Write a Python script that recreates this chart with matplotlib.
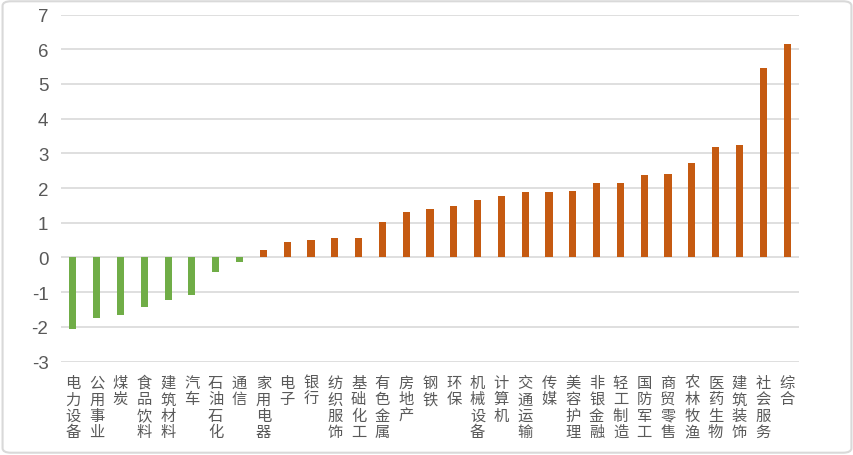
import numpy as np
import matplotlib
matplotlib.use('Agg')
import matplotlib.pyplot as plt
from matplotlib.patches import FancyBboxPatch

# 行业及数值
industries = ['电力设备', '公用事业', '煤炭', '食品饮料', '建筑材料', '汽车', '石油石化', '通信',
              '家用电器', '电子', '银行', '纺织服饰', '基础化工', '有色金属', '房地产', '钢铁',
              '环保', '机械设备', '计算机', '交通运输', '传媒', '美容护理', '非银金融', '轻工制造',
              '国防军工', '商贸零售', '农林牧渔', '医药生物', '建筑装饰', '社会服务', '综合']
values = [-2.05, -1.76, -1.65, -1.42, -1.22, -1.07, -0.41, -0.12,
          0.22, 0.45, 0.51, 0.57, 0.57, 1.03, 1.32, 1.40,
          1.48, 1.66, 1.77, 1.89, 1.89, 1.92, 2.15, 2.15,
          2.38, 2.41, 2.72, 3.18, 3.24, 5.46, 6.15]
yticks = [-3, -2, -1, 0, 1, 2, 3, 4, 5, 6, 7]

green = '#70AD47'
orange = '#C55A11'

fig = plt.figure(figsize=(8.54, 4.56), dpi=100)
ax = fig.add_axes([0.0714, 0.205, 0.8642, 0.761])

x = np.arange(len(industries))
colors = [green if v < 0 else orange for v in values]
ax.bar(x, values, width=0.3, color=colors, zorder=3)

ax.set_xlim(-0.5, len(industries) - 0.5)
ax.set_ylim(-3, 7)
ax.set_yticks(yticks)
ax.set_yticklabels([str(t) for t in yticks], fontsize=13.5, color='#595959', family='Liberation Sans')
ax.yaxis.grid(True, color='#D9D9D9', linewidth=1.2, zorder=0)
ax.set_axisbelow(True)

ax.set_xticks(x)
ax.set_xticklabels(['\n'.join(n) for n in industries], fontsize=11, color='#595959',
                   family=['Noto Sans CJK SC', 'DejaVu Sans'], linespacing=0.95, va='top')
ax.tick_params(axis='both', length=0)
ax.tick_params(axis='x', pad=9)
ax.tick_params(axis='y', pad=9)
for s in ax.spines.values():
    s.set_visible(False)

# 外框
border = FancyBboxPatch((0.003, 0.005), 0.994, 0.99, boxstyle='round,pad=0,rounding_size=0.01',
                        transform=fig.transFigure, fill=False, edgecolor='#D9D9D9', linewidth=1.5)
fig.patches.append(border)

fig.savefig('out.png', dpi=100)
